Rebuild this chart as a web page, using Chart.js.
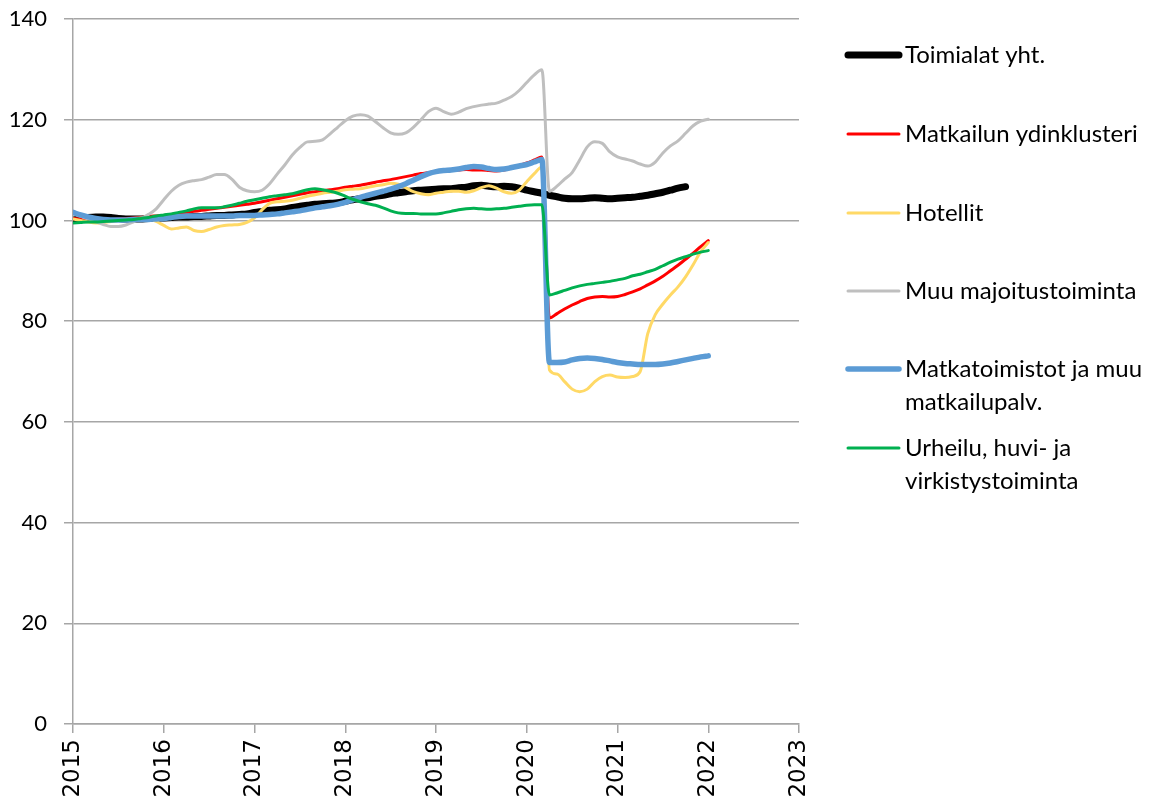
<!DOCTYPE html>
<html>
<head>
<meta charset="utf-8">
<script src="https://cdn.jsdelivr.net/npm/chart.js@4.4.1/dist/chart.umd.min.js"></script>
<style>
    html, body { margin: 0; padding: 0; background: #fff; }
    #wrap { width: 1156px; height: 796px; }
</style>
</head>
<body>
<div id="wrap"><canvas id="chart" width="1156" height="796"></canvas></div>
<script>
// monthly index values, first point = January 2015
var startYear = 2015;
var yearTicks = ['2015', '2016', '2017', '2018', '2019', '2020', '2021', '2022', '2023'];
var yTicks = [0, 20, 40, 60, 80, 100, 120, 140];

var seriesNames = [
    'Toimialat yht.',
    'Matkailun ydinklusteri',
    'Hotellit',
    'Muu majoitustoiminta',
    'Matkatoimistot ja muu\nmatkailupalv.',
    'Urheilu, huvi- ja\nvirkistystoiminta'
];

var toimialat = [100.0, 100.4, 100.6, 100.7, 100.7, 100.6, 100.4, 100.3, 100.3, 100.3, 100.4, 100.4,
    100.5, 100.6, 100.7, 100.7, 100.8, 100.8, 100.9, 101.0, 101.0, 101.1, 101.2, 101.3,
    101.6, 101.8, 102.0, 102.1, 102.3, 102.6, 102.8, 103.0, 103.2, 103.3, 103.4, 103.5,
    103.8, 104.1, 104.3, 104.5, 104.8, 105.0, 105.3, 105.5, 105.7, 105.9, 106.0, 106.1,
    106.2, 106.3, 106.3, 106.5, 106.6, 106.9, 107.0, 106.8, 106.7, 106.8, 106.7, 106.4,
    106.0, 105.7, 105.4, 105.0, 104.7, 104.4, 104.3, 104.3, 104.4, 104.5, 104.4, 104.3,
    104.4, 104.5, 104.6, 104.8, 105.0, 105.3, 105.6, 106.0, 106.4, 106.7];

var ydinklusteri = [100.4, 100.3, 100.2, 100.1, 100.1, 100.2, 100.3, 100.4, 100.5, 100.6, 100.8, 100.9,
    101.0, 101.2, 101.4, 101.6, 101.8, 102.0, 102.2, 102.4, 102.6, 102.8, 103.0, 103.2,
    103.4, 103.7, 104.0, 104.3, 104.6, 104.9, 105.2, 105.5, 105.7, 105.9, 106.1, 106.3,
    106.6, 106.8, 107.0, 107.3, 107.6, 107.9, 108.1, 108.4, 108.7, 109.0, 109.3, 109.5,
    109.7, 109.8, 109.9, 110.0, 110.1, 110.0, 110.0, 109.9, 109.8, 110.0, 110.4, 110.9,
    111.4, 112.0, 112.6, 80.6, 81.5, 82.4, 83.2, 83.9, 84.5, 84.8, 84.9, 84.8,
    84.9, 85.3, 85.8, 86.4, 87.2, 88.0, 88.9, 90.0, 91.1, 92.3, 93.5, 94.8, 96.0];

var hotellit = [100.3, 100.0, 99.7, 99.5, 99.6, 99.8, 100.0, 100.2, 100.4, 100.5, 100.4, 99.8,
    99.0, 98.3, 98.5, 98.7, 98.0, 97.8, 98.2, 98.7, 99.0, 99.1, 99.2, 99.6,
    100.5, 102.1, 103.4, 103.7, 103.8, 104.0, 104.4, 104.8, 105.1, 105.4, 105.6, 105.8,
    106.1, 106.2, 106.3, 106.6, 106.9, 107.1, 107.4, 107.2, 106.5, 105.7, 105.3, 105.1,
    105.4, 105.6, 105.8, 105.8, 105.6, 105.9, 106.5, 106.9, 106.4, 105.7, 105.4, 106.0,
    107.7, 109.3, 110.6, 70.3, 69.5, 68.0, 66.5, 66.0, 66.5, 68.0, 69.0, 69.3,
    68.9, 68.8, 69.0, 70.0, 77.5, 81.3, 83.4, 85.2, 86.8, 88.8, 91.2, 93.8, 95.6];

var muuMajoitus = [101.3, 100.8, 100.3, 99.7, 99.2, 98.8, 98.8, 99.1, 99.7, 100.4, 101.2, 102.3,
    104.1, 105.8, 107.0, 107.6, 107.9, 108.1, 108.6, 109.1, 109.1, 108.2, 106.6, 105.9,
    105.7, 106.0, 107.3, 109.2, 111.0, 113.0, 114.5, 115.6, 115.7, 116.0, 117.2, 118.5,
    119.8, 120.7, 121.0, 120.7, 119.6, 118.4, 117.4, 117.1, 117.4, 118.5, 120.0, 121.6,
    122.3, 121.6, 121.1, 121.5, 122.2, 122.6, 122.9, 123.1, 123.3, 123.9, 124.6, 125.8,
    127.4, 128.9, 129.9, 105.8, 106.8, 108.2, 109.5, 112.0, 114.6, 115.6, 115.3, 113.6,
    112.6, 112.2, 111.8, 111.2, 110.8, 111.6, 113.4, 114.8, 115.8, 117.3, 118.8, 119.7, 120.1];

var matkatoimistot = [101.6, 101.1, 100.7, 100.4, 100.2, 100.1, 100.1, 100.1, 100.2, 100.2, 100.2, 100.3,
    100.4, 100.6, 100.8, 100.9, 100.9, 100.9, 100.9, 100.9, 100.9, 100.9, 101.0, 101.0,
    101.0, 101.1, 101.2, 101.3, 101.5, 101.7, 101.9, 102.2, 102.5, 102.7, 102.9, 103.2,
    103.6, 104.1, 104.6, 105.0, 105.4, 105.8, 106.2, 106.7, 107.3, 108.0, 108.7, 109.3,
    109.7, 109.9, 110.0, 110.2, 110.5, 110.7, 110.6, 110.3, 110.1, 110.2, 110.5, 110.8,
    111.1, 111.6, 112.1, 71.8, 71.8, 71.9, 72.3, 72.6, 72.7, 72.6, 72.4, 72.1,
    71.8, 71.6, 71.5, 71.4, 71.4, 71.4, 71.5, 71.7, 72.0, 72.3, 72.6, 72.9, 73.1];

var urheilu = [99.5, 99.6, 99.7, 99.7, 99.8, 99.9, 100.0, 100.1, 100.2, 100.4, 100.6, 100.9,
    101.1, 101.3, 101.6, 101.9, 102.3, 102.5, 102.5, 102.5, 102.7, 103.0, 103.4, 103.8,
    104.1, 104.4, 104.7, 104.9, 105.1, 105.3, 105.7, 106.1, 106.3, 106.1, 105.8, 105.4,
    104.8, 104.2, 103.7, 103.3, 103.0, 102.5, 101.9, 101.5, 101.4, 101.4, 101.3, 101.3,
    101.3, 101.5, 101.8, 102.1, 102.3, 102.4, 102.3, 102.2, 102.3, 102.4, 102.6, 102.8,
    103.0, 103.1, 103.1, 85.2, 85.6, 86.1, 86.6, 87.0, 87.3, 87.5, 87.7, 87.9,
    88.2, 88.5, 89.0, 89.3, 89.8, 90.3, 91.0, 91.7, 92.3, 92.8, 93.3, 93.7, 94.0];

var seriesValues = [toimialat, ydinklusteri, hotellit, muuMajoitus, matkatoimistot, urheilu];
var seriesColors = ['#000000', '#FF0000', '#FFD966', '#BFBFBF', '#5B9BD5', '#00B050'];
var seriesWidths = [7, 3, 3, 3, 5.5, 3];

var gridColor = '#A6A6A6';

function toPoints(values) {
    return values.map(function(v, i) {
        return { x: startYear + i / 12, y: v };
    });
}

var datasets = seriesValues.map(function(values, i) {
    return {
        label: seriesNames[i],
        data: toPoints(values),
        borderColor: seriesColors[i],
        backgroundColor: seriesColors[i],
        borderWidth: seriesWidths[i],
        pointRadius: 0,
        borderCapStyle: 'round',
        borderJoinStyle: 'round',
        cubicInterpolationMode: 'monotone',
        order: seriesValues.length - i
    };
});

// legend at the right, drawn on the same canvas
var sideLegend = {
    id: 'sideLegend',
    afterDraw: function(chart) {
        var ctx = chart.ctx;
        var rows = [55, 134, 213, 291, 369, 448];
        ctx.save();
        ctx.font = '24px Lato';
        ctx.textBaseline = 'middle';
        ctx.textAlign = 'left';
        chart.data.datasets.forEach(function(ds, i) {
            var y = rows[i];
            ctx.strokeStyle = ds.borderColor;
            ctx.lineWidth = ds.borderWidth;
            ctx.lineCap = 'round';
            ctx.beginPath();
            ctx.moveTo(848, y);
            ctx.lineTo(899, y);
            ctx.stroke();
            ctx.fillStyle = '#000';
            ds.label.split('\n').forEach(function(line, j) {
                ctx.fillText(line, 905, y + j * 33);
            });
        });
        ctx.restore();
    }
};

var chart = new Chart(document.getElementById('chart'), {
    type: 'line',
    data: { datasets: datasets },
    plugins: [sideLegend],
    options: {
        responsive: false,
        animation: false,
        devicePixelRatio: 1,
        layout: { padding: { left: 9, right: 357, top: 19, bottom: 0 } },
        plugins: {
            legend: { display: false },
            tooltip: { enabled: false }
        },
        scales: {
            x: {
                type: 'linear',
                min: 2015,
                max: 2023,
                afterFit: function(scale) {
                    scale.height = 72;
                    scale.paddingLeft = 0;
                    scale.paddingRight = 0;
                },
                ticks: {
                    stepSize: 1,
                    autoSkip: false,
                    minRotation: 90,
                    maxRotation: 90,
                    padding: 6,
                    color: '#000',
                    font: { family: 'DejaVu Sans', size: 23 },
                    callback: function(value, index) {
                        return yearTicks[index];
                    }
                },
                grid: { drawOnChartArea: false, drawTicks: true, tickLength: 9, color: gridColor, lineWidth: 1.5 },
                border: { color: gridColor, width: 1.5 }
            },
            y: {
                min: 0,
                max: 140,
                afterFit: function(scale) {
                    scale.width = 64;
                    scale.paddingTop = 0;
                    scale.paddingBottom = 0;
                },
                ticks: {
                    stepSize: 20,
                    padding: 17,
                    color: '#000',
                    font: { family: 'Lato', size: 22 },
                    callback: function(value, index) {
                        return String(yTicks[index]);
                    }
                },
                grid: { color: gridColor, lineWidth: 1.5, tickLength: 9 },
                border: { color: gridColor, width: 1.5 }
            }
        }
    }
});
</script>
</body>
</html>
